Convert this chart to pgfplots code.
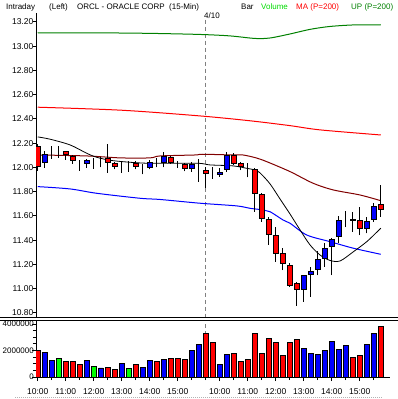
\documentclass[border=0pt]{standalone}
\usepackage{pgfplots}
\pgfplotsset{compat=1.18}
\usepackage{pgfplotstable}
\usepackage{fontspec}
\setmainfont{Liberation Sans}
\definecolor{upgreen}{RGB}{0,128,0}
\definecolor{volgreen}{RGB}{0,255,0}
\definecolor{voltext}{RGB}{0,220,0}
\definecolor{maroonline}{RGB}{128,0,0}
\definecolor{dashgray}{RGB}{128,128,128}
\newcommand{\hdr}{\fontsize{8bp}{9.5bp}\selectfont}
\newcommand{\tck}{\fontsize{8.5bp}{10bp}\selectfont}
\newcommand{\vtck}{\fontsize{8bp}{9.5bp}\selectfont}

\pgfplotstableread{
i o h l c
0 12.169 12.194 11.971 12.012
1 12.037 12.136 11.996 12.111
2 12.128 12.178 12.070 12.128
3 12.120 12.178 12.080 12.120
4 12.128 12.136 12.062 12.103
5 12.087 12.103 12.029 12.054
6 12.043 12.062 11.971 12.043
7 12.035 12.070 11.996 12.054
8 12.048 12.076 11.988 12.048
9 12.062 12.084 12.000 12.062
10 12.076 12.194 11.955 12.041
11 12.035 12.045 11.985 12.007
12 12.025 12.048 11.955 12.025
13 12.021 12.050 11.963 12.021
14 12.029 12.054 11.984 12.004
15 12.008 12.029 11.942 12.008
16 12.002 12.058 11.984 12.043
17 12.048 12.076 12.000 12.048
18 12.043 12.124 12.000 12.087
19 12.083 12.095 12.029 12.043
20 12.033 12.054 11.996 12.033
21 12.025 12.037 11.967 11.994
22 11.994 12.041 11.963 12.025
23 12.037 12.070 11.883 12.037
24 11.979 12.007 11.831 11.952
25 11.955 12.004 11.907 11.955
26 11.944 11.994 11.925 11.960
27 11.985 12.130 11.966 12.099
28 12.099 12.117 12.021 12.035
29 12.029 12.041 11.979 12.004
30 11.994 12.035 11.919 11.994
31 11.985 11.994 11.636 11.787
32 11.773 11.787 11.553 11.581
33 11.573 11.595 11.361 11.449
34 11.435 11.512 11.223 11.292
35 11.292 11.333 11.154 11.204
36 11.195 11.209 11.016 11.025
37 11.045 11.058 10.858 10.996
38 10.996 11.113 10.893 11.111
39 11.119 11.181 10.934 11.146
40 11.155 11.307 11.113 11.244
41 11.253 11.376 11.183 11.335
42 11.347 11.416 11.113 11.402
43 11.430 11.603 11.375 11.559
44 11.573 11.640 11.508 11.573
45 11.573 11.632 11.471 11.559
46 11.561 11.677 11.443 11.499
47 11.499 11.595 11.457 11.553
48 11.573 11.705 11.553 11.677
49 11.691 11.855 11.594 11.655
}\candles

\pgfplotsset{
  pricegeom/.style={
    at={(36bp,-316.6bp)}, anchor=south west,
    scale only axis, width=354.06bp, height=303.125bp,
    xmin=-0.25, xmax=50.33, ymin=10.77, ymax=13.27,
  },
}

\begin{document}
\begin{tikzpicture}
\path[use as bounding box] (0,0) rectangle (398bp,-399bp);

% header
\node[anchor=base west, inner sep=0pt, font=\hdr] at (6bp,-9.5bp) {Intraday};
\node[anchor=base west, inner sep=0pt, font=\hdr] at (49bp,-9.5bp) {(Left)};
\node[anchor=base west, inner sep=0pt, font=\hdr] at (77bp,-9.5bp) {ORCL - ORACLE CORP\ \ (15-Min)};
\node[anchor=base west, inner sep=0pt, font=\hdr] at (241bp,-9.5bp) {Bar};
\node[anchor=base west, inner sep=0pt, font=\hdr, text=voltext] at (261bp,-9.5bp) {Volume};
\node[anchor=base west, inner sep=0pt, font=\hdr, text=red] at (296bp,-9.5bp) {MA (P=200)};
\node[anchor=base west, inner sep=0pt, font=\hdr, text=upgreen] at (351bp,-9.5bp) {UP (P=200)};
\node[anchor=base west, inner sep=0pt, font=\hdr] at (204bp,-18.3bp) {4/10};

% price panel: axis, lines, wicks
\begin{axis}[pricegeom,
  axis y line=left, axis x line=none,
  axis line style={-, line width=1bp, black},
  tick align=outside, major tick length=3bp,
  ytick={10.8,11.0,11.2,11.4,11.6,11.8,12.0,12.2,12.4,12.6,12.8,13.0,13.2},
  yticklabels={10.80,11.00,11.20,11.40,11.60,11.80,12.00,12.20,12.40,12.60,12.80,13.00,13.20},
  xtick=\empty,
  ytick style={line width=1bp, black},
  yticklabel style={font=\tck, inner sep=1bp, xshift=1.5bp},
]
\draw[dashgray, line width=1bp, dash pattern=on 4bp off 3bp] (axis cs:24,13.22) -- (axis cs:24,10.77);
\addplot[upgreen, line width=1bp, smooth] coordinates {
(0,13.110) (8.9,13.110) (16.04,13.106) (23.19,13.097) (27.47,13.085) (31.04,13.064) (33.19,13.068) (36.04,13.101) (38.9,13.139) (41.76,13.163) (45.33,13.176) (49,13.176)};
\addplot[red, line width=1bp, smooth] coordinates {
(0,12.497) (12,12.472) (23.19,12.425) (30.33,12.385) (36.04,12.345) (40.33,12.310) (49,12.268)};
\addplot[blue, line width=1bp, smooth] coordinates {
(0,11.842) (4.61,11.823) (8.43,11.787) (14.61,11.746) (17.47,11.736) (23.19,11.705) (28.43,11.683) (30.33,11.663) (32.19,11.650) (33.19,11.635) (35.04,11.567) (36.04,11.540) (38.43,11.443) (41.76,11.388) (45.09,11.334) (49,11.284)};
\addplot[maroonline, line width=1bp, smooth] coordinates {
(0,12.103) (7,12.095) (11.76,12.079) (16.04,12.079) (17.47,12.095) (22.47,12.103) (23.47,12.109) (27.9,12.103) (29.33,12.103) (31.19,12.079) (32.71,12.048) (36.04,11.966) (39.33,11.870) (42.19,11.815) (46.04,11.773) (49,11.726)};
\addplot[black, line width=0.8bp, smooth] coordinates {
(0,12.252) (1.76,12.233) (4.61,12.186) (7,12.117) (8.43,12.084) (10.76,12.056) (15.57,12.035) (22.71,12.035) (24.61,12.021) (27.9,12.013) (29.86,11.993) (31.04,11.979) (31.76,11.955) (33.19,11.864) (34.61,11.740) (36.04,11.616) (37.47,11.485) (38.9,11.361) (40.33,11.278) (41.76,11.233) (43.19,11.229) (45.04,11.303) (47.04,11.390) (49,11.499)};
\addplot[black, only marks, mark=*, mark size=0pt, mark options={draw=none, fill=none},
  error bars/.cd, y dir=plus, y explicit, error mark=none,
  error bar style={line width=1bp, black}]
  table[x=i, y=l, y error plus expr=\thisrow{h}-\thisrow{l}] {\candles};
\end{axis}

% price panel: candle bodies
\begin{axis}[pricegeom, hide axis, ybar stacked, bar width=4.6bp]
\addplot[draw=none, fill=none] table[x=i, y expr={min(\thisrow{o},\thisrow{c})}] {\candles};
\addplot[draw=black, fill=red, line width=1bp] table[x=i, y expr={max(\thisrow{o}-\thisrow{c},0)}] {\candles};
\addplot[draw=black, fill=blue, line width=1bp] table[x=i, y expr={max(\thisrow{c}-\thisrow{o},0)}] {\candles};
\end{axis}

% separators
\draw[black, line width=1bp] (0,-317.5bp) -- (398bp,-317.5bp);
\draw[black, line width=1bp] (0,-320.3bp) -- (398bp,-320.3bp);

% volume panel
\begin{axis}[
  at={(36bp,-377bp)}, anchor=south west,
  scale only axis, width=354.06bp, height=56bp,
  xmin=-0.25, xmax=50.33, ymin=0, ymax=4226415,
  axis y line=left, axis x line=bottom,
  axis line style={-, line width=1bp, black},
  tick align=outside, major tick length=4bp, minor tick length=3bp,
  ytick={0,2000000,4000000}, yticklabels={0,2000000,4000000},
  minor y tick num=3,
  scaled y ticks=false,
  xtick={0,4,8,12,16,20,26,30,34,38,42,46},
  xticklabels={10:00,11:00,12:00,13:00,14:00,15:00,10:00,11:00,12:00,13:00,14:00,15:00},
  minor xtick={2,6,10,14,18,22,24,28,32,36,40,44,48},
  tick style={line width=1bp, black},
  yticklabel style={font=\vtck, inner sep=0.5bp, xshift=2.5bp},
  xticklabel style={font=\tck, yshift=-4bp},
  ybar, bar width=4.5bp,
]
\draw[dashgray, line width=1bp, dash pattern=on 4bp off 3bp] (axis cs:24,0) -- (axis cs:24,4226415);
\addplot[bar shift=0pt, draw=black, fill=red, line width=0.9bp] coordinates {
(0,2000000) (4,1200000) (5,1200000) (6,950000) (10,720000) (11,580000) (14,950000) (17,1200000) (19,1420000) (20,1420000) (21,1350000) (24,3300000) (25,2620000) (28,1800000) (29,1200000) (30,1350000) (31,3300000) (32,1800000) (33,2920000) (34,2620000) (35,1650000) (36,2620000) (37,2850000) (45,1500000) (46,1650000) (49,3830000)};
\addplot[bar shift=0pt, draw=black, fill=blue, line width=0.9bp] coordinates {
(1,1860000) (2,1260000) (7,1260000) (9,680000) (12,1040000) (15,730000) (16,1260000) (18,1340000) (22,2000000) (23,2480000) (26,960000) (27,1710000) (38,2160000) (39,1790000) (40,1710000) (41,2010000) (42,2690000) (43,2090000) (44,2390000) (47,2480000) (48,3300000)};
\addplot[bar shift=0pt, draw=black, fill=volgreen, line width=0.9bp] coordinates {
(3,1410000) (8,810000) (13,660000)};
\end{axis}

\draw[gray!60, line width=1bp, dash pattern=on 1bp off 1bp] (15bp,-397.5bp) -- (382bp,-397.5bp);
\end{tikzpicture}
\end{document}
